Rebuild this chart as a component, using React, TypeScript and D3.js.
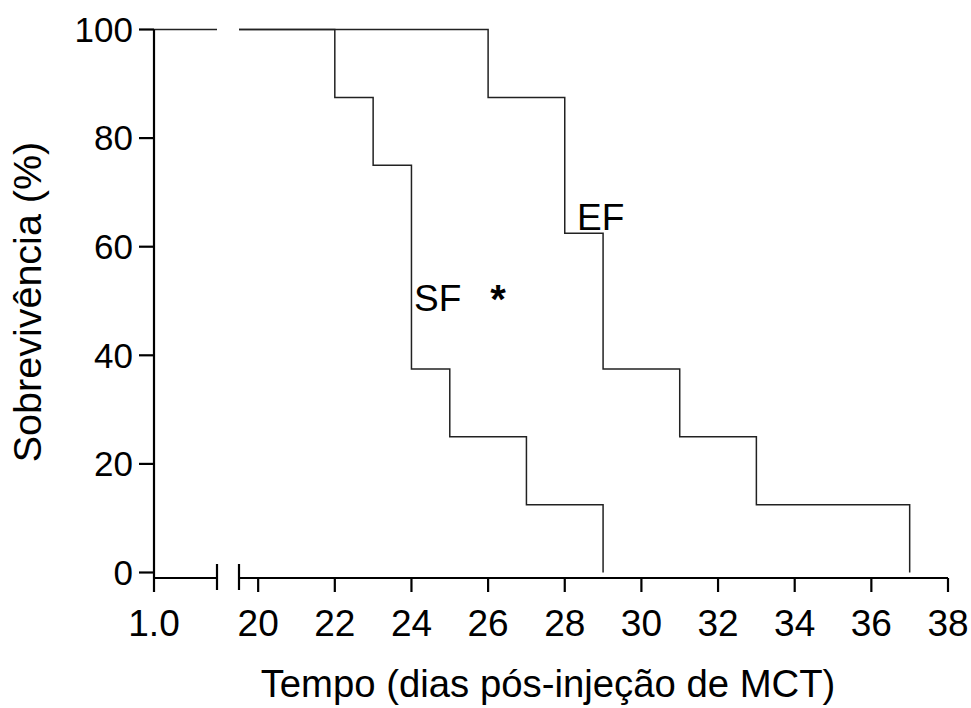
import React from 'react'
import * as d3 from 'd3'

// survival (%) after each death, per group
const sfDays = [22, 23, 24, 25, 27, 29]
const sfSurvival = [87.5, 75, 37.5, 25, 12.5, 0]
const efDays = [26, 28, 29, 31, 33, 37]
const efSurvival = [87.5, 62.5, 37.5, 25, 12.5, 0]

const yTicks = [0, 20, 40, 60, 80, 100]
const xTicks = [20, 22, 24, 26, 28, 30, 32, 34, 36, 38]
const leftTickLabel = '1.0'

const font = '"Liberation Sans", Arial, sans-serif'

const App: React.FunctionComponent = () => {
  const width = 971
  const height = 708
  const axisY = 578

  const y = d3.scaleLinear().domain([0, 100]).range([572.5, 29.5])
  const xLeft = d3.scaleLinear().domain([1, 2]).range([154, 217])
  const x = d3.scaleLinear().domain([19.5, 38]).range([239, 948])

  const line = d3
    .line<[number, number]>()
    .x(d => x(d[0]))
    .y(d => y(d[1]))
    .curve(d3.curveStepAfter)

  const series = (days: number[], values: number[]): [number, number][] => [
    [19.5, 100],
    ...days.map((d, i): [number, number] => [d, values[i]]),
  ]

  const lineStyle = { fill: 'none', stroke: '#222', strokeWidth: 1.5 }
  const axisStyle = { stroke: '#000', strokeWidth: 2.2 }

  return (
    <svg
      width={width}
      height={height}
      style={{ position: 'absolute', left: 0, top: 0, background: '#fff' }}
      fontFamily={font}
    >
      {/* data */}
      <line x1={xLeft(1)} x2={xLeft(2)} y1={y(100)} y2={y(100)} {...lineStyle} />
      <path d={line(series(sfDays, sfSurvival)) || ''} {...lineStyle} />
      <path d={line(series(efDays, efSurvival)) || ''} {...lineStyle} />

      {/* y axis */}
      <line x1={xLeft(1)} x2={xLeft(1)} y1={y(100)} y2={axisY} {...axisStyle} />
      {yTicks.map(t => (
        <g key={t}>
          <line x1={xLeft(1) - 15} x2={xLeft(1)} y1={y(t)} y2={y(t)} {...axisStyle} />
          <text x={133} y={y(t)} dy="0.35em" textAnchor="end" fontSize={35}>
            {t}
          </text>
        </g>
      ))}

      {/* x axis, left segment */}
      <line x1={xLeft(1)} x2={xLeft(2)} y1={axisY} y2={axisY} {...axisStyle} />
      <line x1={xLeft(1)} x2={xLeft(1)} y1={axisY} y2={axisY + 14} {...axisStyle} />
      <line x1={xLeft(2)} x2={xLeft(2)} y1={axisY - 14} y2={axisY + 12} {...axisStyle} />
      <text x={xLeft(1)} y={636} textAnchor="middle" fontSize={37}>
        {leftTickLabel}
      </text>

      {/* x axis, right segment */}
      <line x1={x(19.5)} x2={x(38)} y1={axisY} y2={axisY} {...axisStyle} />
      <line x1={x(19.5)} x2={x(19.5)} y1={axisY - 14} y2={axisY + 12} {...axisStyle} />
      {xTicks.map(t => (
        <g key={t}>
          <line x1={x(t)} x2={x(t)} y1={axisY} y2={axisY + 14} {...axisStyle} />
          <text x={x(t)} y={636} textAnchor="middle" fontSize={37}>
            {t}
          </text>
        </g>
      ))}

      {/* labels */}
      <text x={577} y={229.5} fontSize={37}>
        EF
      </text>
      <text x={414} y={311} fontSize={37}>
        SF
      </text>
      <text x={498} y={313} textAnchor="middle" fontSize={40} fontWeight="bold">
        *
      </text>

      {/* titles */}
      <text x={548} y={697} textAnchor="middle" fontSize={38.3}>
        Tempo (dias pós-injeção de MCT)
      </text>
      <text
        transform="translate(41,302) rotate(-90)"
        textAnchor="middle"
        fontSize={39.5}
      >
        Sobrevivência (%)
      </text>
    </svg>
  )
}

export default App
